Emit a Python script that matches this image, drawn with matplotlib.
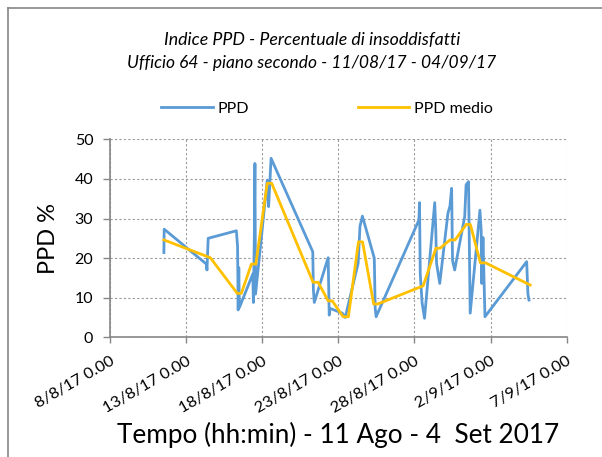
import matplotlib
matplotlib.use("Agg")
import matplotlib.pyplot as plt
from matplotlib.lines import Line2D
import pandas as pd

plt.rcParams['font.family'] = ['Lato', 'DejaVu Sans']

# Data: (day offset from 8 Aug 2017, value)
ppd_days = [3.54, 3.56, 6.33, 6.37, 6.45, 8.30, 8.38, 8.42, 8.46, 8.50, 9.38, 9.42,
            9.48, 9.52, 9.56, 10.33, 10.42, 10.58, 13.32, 13.36, 13.42, 14.33, 14.40,
            14.45, 15.26, 15.45, 16.30, 16.42, 16.58, 17.36, 17.42, 17.48, 20.29,
            20.33, 20.38, 20.50, 20.66, 21.33, 21.40, 21.45, 21.66, 22.20, 22.33,
            22.44, 22.50, 22.64, 22.80, 23.30, 23.39, 23.55, 23.66, 24.30, 24.38,
            24.42, 24.50, 24.63, 27.37, 27.45, 27.52]
ppd_vals = [21.4, 27.3, 18.5, 17.0, 25.0, 26.9, 23.0, 6.9, 17.6, 7.5, 16.0, 8.8,
            25.6, 43.9, 10.9, 39.7, 33.0, 45.2, 21.6, 12.0, 8.8, 20.1, 5.6,
            7.3, 6.1, 5.0, 18.7, 28.0, 30.6, 20.0, 7.4, 5.2, 29.6,
            34.0, 16.0, 8.7, 4.8, 34.0, 27.0, 18.7, 13.6, 31.4, 33.1,
            37.6, 19.4, 17.0, 20.3, 30.5, 38.5, 39.3, 6.1, 32.1, 27.0,
            13.6, 25.2, 5.2, 19.1, 11.0, 9.4]

medio_days = [3.54, 6.59, 8.36, 8.63, 9.29, 9.58, 10.33, 10.62, 13.34, 13.67, 14.33,
              14.60, 15.31, 15.66, 16.32, 16.59, 17.32, 17.58, 20.57, 21.41, 21.68,
              22.34, 22.67, 23.40, 23.67, 24.33, 24.67, 27.60]
medio_vals = [24.6, 20.1, 11.1, 11.1, 18.5, 18.5, 38.9, 38.9, 13.9, 13.9, 9.2,
              9.2, 5.2, 5.2, 24.1, 24.1, 8.4, 8.4, 13.0, 22.5, 22.5,
              24.6, 24.6, 28.5, 28.5, 18.8, 18.8, 13.2]

start = pd.Timestamp("2017-08-08")
tick_dates = pd.date_range("2017-08-08", "2017-09-07", freq="5D")
tick_labels = [f"{d.day}/{d.month}/17 0.00" for d in tick_dates]

ppd_t = [start + pd.Timedelta(days=d) for d in ppd_days]
medio_t = [start + pd.Timedelta(days=d) for d in medio_days]

fig = plt.figure(figsize=(6.02, 4.57), dpi=100)
ax = fig.add_axes([0.1827, 0.2619, 0.7587, 0.4333])

blue = "#5B9BD5"
yellow = "#FFC000"
ax.plot(ppd_t, ppd_vals, color=blue, lw=2.0, solid_joinstyle='round')
ax.plot(medio_t, medio_vals, color=yellow, lw=2.0, solid_joinstyle='round')

ax.set_xlim(tick_dates[0], tick_dates[-1])
ax.set_ylim(0, 50)
ax.set_yticks([0, 10, 20, 30, 40, 50])
ax.set_xticks(tick_dates)
ax.set_xticklabels(tick_labels, rotation=30, ha='right', rotation_mode='anchor',
                   fontsize=11.8)
ax.tick_params(axis='y', labelsize=11.5, length=5, color='#868686', width=1, pad=7)
ax.tick_params(axis='x', length=4, color='#868686', width=1, pad=8)

for s in ['top', 'right']:
    ax.spines[s].set_visible(False)
for s in ['left', 'bottom']:
    ax.spines[s].set_color('#868686')
    ax.spines[s].set_linewidth(1.2)

ax.grid(True, which='major', axis='both', color='#999999', linestyle=(0, (2, 2)), lw=0.8)
ax.set_axisbelow(True)

ax.set_ylabel("PPD %", fontsize=17, labelpad=11)
ax.set_xlabel("Tempo (hh:min) - 11 Ago - 4  Set 2017", fontsize=18.8, labelpad=5)

fig.text(0.519, 0.9125, "Indice PPD - Percentuale di insoddisfatti", ha='center',
         va='center', fontsize=12.8, style='italic')
fig.text(0.518, 0.862, "Ufficio 64 - piano secondo - 11/08/17 - 04/09/17", ha='center',
         va='center', fontsize=12.5, style='italic')

# legend
handles = [Line2D([], [], color=blue, lw=2.0), Line2D([], [], color=yellow, lw=2.0)]
fig.legend(handles, ["PPD", "PPD medio"], loc='center', bbox_to_anchor=(0.543, 0.7615),
           ncol=2, frameon=False, fontsize=11.5, handlelength=3.25, columnspacing=6.8,
           handletextpad=0.3, borderpad=0)

# chart border (left and top)
fig.add_artist(Line2D([0.0133, 0.0133], [0.0, 0.9825], transform=fig.transFigure,
                      color='#868686', lw=1.2))
fig.add_artist(Line2D([0.0133, 1.0], [0.9825, 0.9825], transform=fig.transFigure,
                      color='#868686', lw=1.2))

fig.savefig("out.png", dpi=100)
